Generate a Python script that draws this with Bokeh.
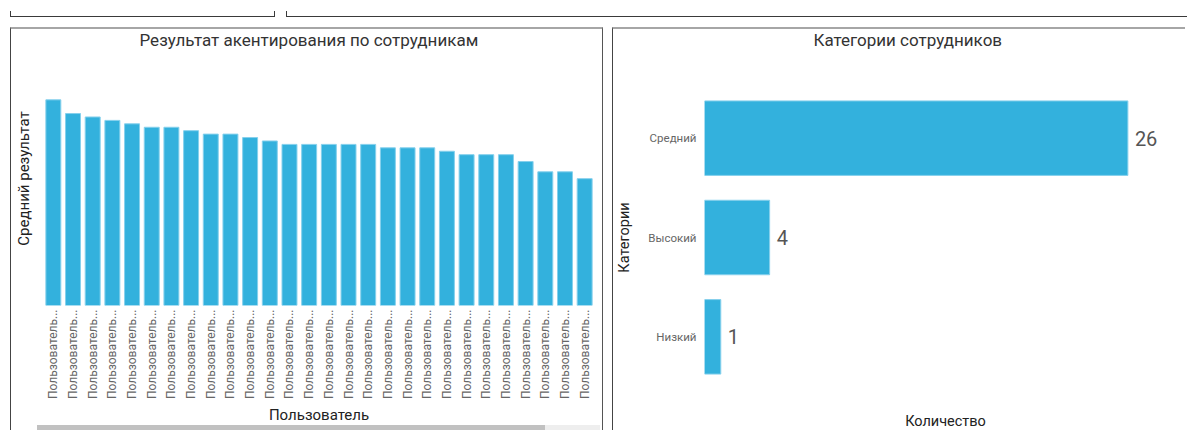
import math

from bokeh.plotting import figure
from bokeh.models import (ColumnDataSource, FactorRange, Range1d, Div, Spacer, Title,
                          LinearAxis, FixedTicker, CustomJSTickFormatter)
from bokeh.layouts import column, row
from bokeh.core.properties import value
from bokeh.embed import file_html
from bokeh.resources import INLINE

# --- data -------------------------------------------------------------
users = [f"Пользователь {i}" for i in range(1, 29)]
avg_scores = [60, 56, 55, 54, 53, 52, 52, 51, 50, 50, 49, 48, 47, 47,
              47, 47, 47, 46, 46, 46, 45, 44, 44, 44, 42, 39, 39, 37]

categories = ["Средний", "Высокий", "Низкий"]
counts = [26, 4, 1]

FONT = "Roboto"
BAR = "#33b1dd"
BAR_EDGE = "#86d0ec"
PANEL_TOP = "2px solid #a6a6a6"


def panel_title(text, offset):
    return Title(text=text, align="left", offset=offset, vertical_align="top", standoff=0,
                 text_font=FONT, text_font_size="17px", text_font_style="normal",
                 text_color="#333333")


def plain_axes(p, label_size):
    p.outline_line_color = None
    p.xgrid.grid_line_color = None
    p.ygrid.grid_line_color = None
    for ax in (p.xaxis, p.yaxis):
        ax.axis_line_color = None
        ax.major_tick_line_color = None
        ax.minor_tick_line_color = None
        ax.major_tick_out = 0
        ax.major_tick_in = 0
        ax.axis_label_text_font = FONT
        ax.axis_label_text_font_size = label_size
        ax.axis_label_text_font_style = "normal"
        ax.axis_label_text_color = "#222222"


# --- header strip with the bottoms of the filter boxes -----------------
header = Div(
    text=(
        '<div style="position:relative;width:1187px;height:27px;overflow:hidden">'
        '<div style="position:absolute;left:10px;top:11px;width:265px;height:6px;'
        'border:1px solid #3a3a3a;border-top:none"></div>'
        '<div style="position:absolute;left:286px;top:11px;width:950px;height:6px;'
        'border-left:1px solid #3a3a3a;border-bottom:1px solid #3a3a3a"></div>'
        '</div>'
    ),
    width=1187, height=27, margin=0,
)

# --- left: average result per employee --------------------------------
src_users = ColumnDataSource(dict(user=users, score=avg_scores))

p1 = figure(
    x_range=FactorRange(*users), y_range=Range1d(0, 74.1),
    width=593, height=398,
    min_border_left=31, min_border_right=10, min_border_top=0, min_border_bottom=122,
    output_backend="svg", toolbar_location=None, tools="", title=None,
    styles={"border-top": PANEL_TOP, "border-left": "1px solid #444",
            "border-right": "1px solid #555"},
    frame_align=False,
)
p1.vbar(x="user", top="score", width=0.76, source=src_users,
        fill_color=BAR, line_color=BAR_EDGE, line_width=1)
plain_axes(p1, "15px")
p1.add_layout(panel_title("Результат акентирования по сотрудникам", 96), "above")

# long user names are shortened on the axis
p1.xaxis.formatter = CustomJSTickFormatter(
    code="return tick.length > 12 ? tick.slice(0, 12) + '...' : tick;")
p1.xaxis.major_label_orientation = math.pi / 2
p1.xaxis.major_label_text_font = FONT
p1.xaxis.major_label_text_font_size = "12px"
p1.xaxis.major_label_text_color = "#666666"
p1.xaxis.major_label_standoff = 4
p1.xaxis.axis_label = "Пользователь"
p1.xaxis.axis_label_standoff = 4

p1.yaxis.ticker = FixedTicker(ticks=[])
p1.yaxis.axis_label = "Средний результат"
p1.yaxis.axis_label_standoff = 11
p1.yaxis.major_label_standoff = 0

# horizontal scrollbar of the bar list
scrollbar = Div(
    text="", width=593, height=5, margin=0,
    styles={
        "border-left": "1px solid #444", "border-right": "1px solid #555",
        "background": ("linear-gradient(to right, #ffffff 26px, #c1c1c1 26px, "
                       "#c1c1c1 534px, #eeeeee 534px, #eeeeee 589px, #ffffff 589px)"),
    },
)

# --- right: employees per category ------------------------------------
src_cat = ColumnDataSource(dict(category=categories, count=counts,
                                label=[str(c) for c in counts]))

p2 = figure(
    y_range=FactorRange(*categories[::-1]), x_range=Range1d(0, 29.6),
    width=573, height=403,
    min_border_left=90, min_border_right=0, min_border_top=58, min_border_bottom=44,
    output_backend="svg", toolbar_location=None, tools="", title=None,
    styles={"border-top": PANEL_TOP, "border-left": "1px solid #444"},
    frame_align=False,
)
p2.hbar(y="category", right="count", height=0.75, source=src_cat,
        fill_color=BAR, line_color=BAR_EDGE, line_width=1)
p2.text(x="count", y="category", text="label", source=src_cat,
        x_offset=7, text_baseline="middle", text_align="left",
        text_font=value(FONT), text_font_size="20px", text_color="#555555")
plain_axes(p2, "14.5px")

p2.yaxis.major_label_text_font = FONT
p2.yaxis.major_label_text_font_size = "11.5px"
p2.yaxis.major_label_text_color = "#666666"
p2.yaxis.major_label_standoff = 8
p2.yaxis.axis_label = "Категории"
p2.yaxis.axis_label_standoff = 12

p2.xaxis.ticker = FixedTicker(ticks=[])
p2.xaxis.major_label_standoff = 0
p2.xaxis.axis_label = "Количество"
p2.xaxis.axis_label_standoff = 26

# blank band between the title and the bars, then the title above it
gap = LinearAxis(ticker=FixedTicker(ticks=[]), axis_line_color=None,
                 major_tick_line_color=None, minor_tick_line_color=None,
                 major_tick_in=0, major_tick_out=0, minor_tick_out=0,
                 major_label_standoff=0,
                 axis_label=" ", axis_label_standoff=23,
                 axis_label_text_font=FONT, axis_label_text_font_size="10px")
p2.add_layout(gap, "above")
p2.add_layout(panel_title("Категории сотрудников", 109), "above")

layout = column(
    header,
    row(Spacer(width=10, height=403), column(p1, scrollbar, spacing=0),
        Spacer(width=9, height=403), p2, spacing=0),
    spacing=0,
)

open("out.html", "w").write(file_html(layout, INLINE))
